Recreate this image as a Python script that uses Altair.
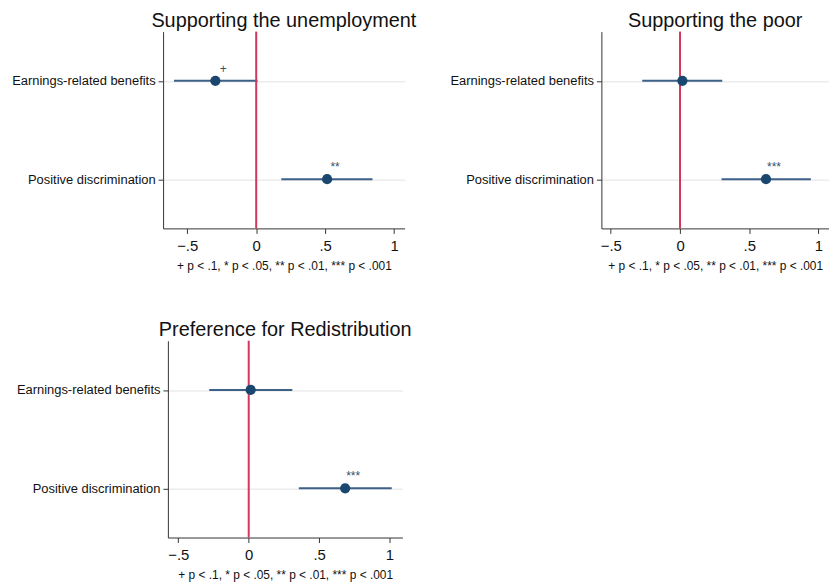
import altair as alt
import pandas as pd

# ---- data ----
panel_titles = ["Supporting the unemployment", "Supporting the poor", "Preference for Redistribution"]
terms = ["Earnings-related benefits", "Positive discrimination"]

est_unemp = [-0.296, 0.514]
lo_unemp = [-0.596, 0.182]
hi_unemp = [0.009, 0.843]
stars_unemp = ["+", "**"]

est_poor = [0.017, 0.621]
lo_poor = [-0.273, 0.300]
hi_poor = [0.305, 0.945]
stars_poor = ["", "***"]

est_redist = [0.014, 0.685]
lo_redist = [-0.280, 0.356]
hi_redist = [0.310, 1.016]
stars_redist = ["", "***"]

x_ticks = [-0.5, 0, 0.5, 1]
note = "+ p < .1, * p < .05, ** p < .01, *** p < .001"

FONT = "Liberation Sans"
NAVY = "#1a476f"
CI = "#3d6188"
RED = "#d1375c"


def panel(title, est, lo, hi, stars, domain, width):
    df = pd.DataFrame({"term": terms, "est": est, "lo": lo, "hi": hi, "star": stars})
    ref = pd.DataFrame({"zero": [0]})
    y = alt.Y("term:N", sort=terms,
              scale=alt.Scale(type="point", padding=0.5),
              axis=alt.Axis(title=None, labelFontSize=13, labelFont=FONT, labelColor="#111",
                            tickSize=5, tickColor="#333", domainColor="#333", labelPadding=3,
                            grid=True, gridColor="#ececec", gridWidth=1.5))
    xscale = alt.Scale(domain=domain, nice=False, zero=False)
    xaxis = alt.Axis(values=x_ticks, title=note, titleFont=FONT, titleFontSize=12,
                     titleFontWeight="normal", titleColor="#111", titlePadding=7,
                     labelFont=FONT, labelFontSize=15, labelColor="#111",
                     labelExpr="datum.value == 0 ? '0' : replace(format(datum.value, '.1~f'), '0.', '.')",
                     tickSize=5, tickColor="#333", domainColor="#333", grid=False, labelPadding=5)
    ci = alt.Chart(df).mark_rule(color=CI, strokeWidth=2).encode(
        x=alt.X("lo:Q", scale=xscale, axis=xaxis), x2="hi:Q", y=y)
    zero = alt.Chart(ref).mark_rule(color=RED, strokeWidth=2).encode(
        x=alt.X("zero:Q", scale=xscale))
    pts = alt.Chart(df).mark_point(filled=True, opacity=1, size=105, color=NAVY).encode(
        x=alt.X("est:Q", scale=xscale), y=y)
    txt = alt.Chart(df).mark_text(color="#34506e", fontSize=12, font=FONT, dx=8, dy=-12).encode(
        x=alt.X("est:Q", scale=xscale), y=y, text="star:N")
    return alt.layer(ci, zero, pts, txt).properties(
        width=width, height=198,
        title=alt.TitleParams(title, fontSize=20, font=FONT, fontWeight="normal",
                              color="#111", anchor="middle", offset=0))


p1 = panel(panel_titles[0], est_unemp, lo_unemp, hi_unemp, stars_unemp, [-0.675, 1.076], 243)
p2 = panel(panel_titles[1], est_poor, lo_poor, hi_poor, stars_poor, [-0.568, 1.076], 229)
p3 = panel(panel_titles[2], est_redist, lo_redist, hi_redist, stars_redist, [-0.574, 1.092], 236)

chart = alt.concat(
    p1, p2, p3,
    columns=2,
    spacing={"row": 49, "column": 33},
    center=True,
).properties(padding={"left": 3, "top": 1, "right": 0, "bottom": 0}).configure_view(stroke=None)

chart.save("out.html", embed_options={"renderer": "svg", "actions": False})
